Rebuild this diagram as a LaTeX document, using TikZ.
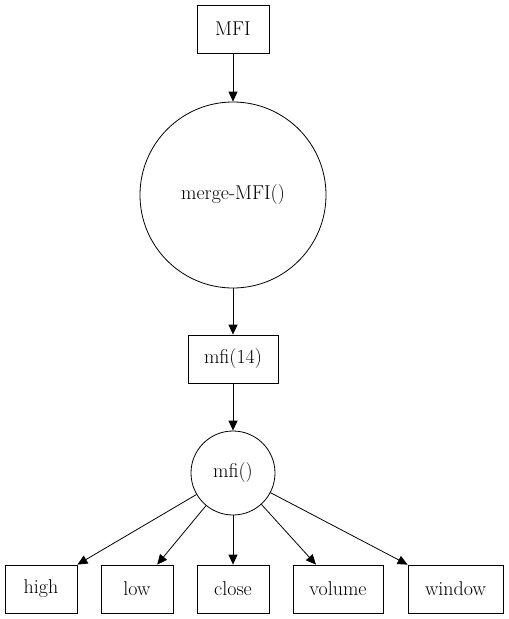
\documentclass[tikz,border=0pt]{standalone}
\usepackage{fontspec}
\usepackage{tikz}
\usetikzlibrary{
    arrows.meta,
    positioning
}

\begin{document}
\begin{tikzpicture}[x=1pt, y=1pt, line width=0.8pt,
                    font=\fontsize{20}{24}\selectfont,
                    box/.style={draw, rectangle, minimum height=48pt, inner sep=0pt},
                    fn/.style={draw, circle, inner sep=0pt},
                    link/.style={-{Triangle[length=10pt, width=9pt]}}]
                                \useasboundingbox (0, 0) rectangle (509, -619);
                                \node[box, minimum width=72pt] (mfi) at (233, -29) {MFI};
                                \node[fn, minimum size=186pt] (merge) at (233, -195) {merge-MFI()};
                                \node[box, minimum width=90pt] (mfi14) at (233, -359) {mfi(14)};
                                \node[fn, minimum size=84pt] (call) at (233, -473) {mfi()};
                                \node[box, minimum width=72pt] (high) at (41, -589) {high};
                                \node[box, minimum width=72pt] (low) at (137, -589) {low};
                                \node[box, minimum width=72pt] (close) at (233, -589) {close};
                                \node[box, minimum width=90pt] (volume) at (338, -589) {volume};
                                \node[box, minimum width=95pt] (window) at (455.5, -589) {window};
                                \draw[link] (mfi) -- (merge);
                                \draw[link] (merge) -- (mfi14);
                                \draw[link] (mfi14) -- (call);
                                \draw[link]
                                (call) edge (high.north east)
                                (call) edge (low)
                                (call) edge (close)
                                (call) edge (volume)
                                (call) edge (window.north west);
                            \end{tikzpicture}
\end{document}
